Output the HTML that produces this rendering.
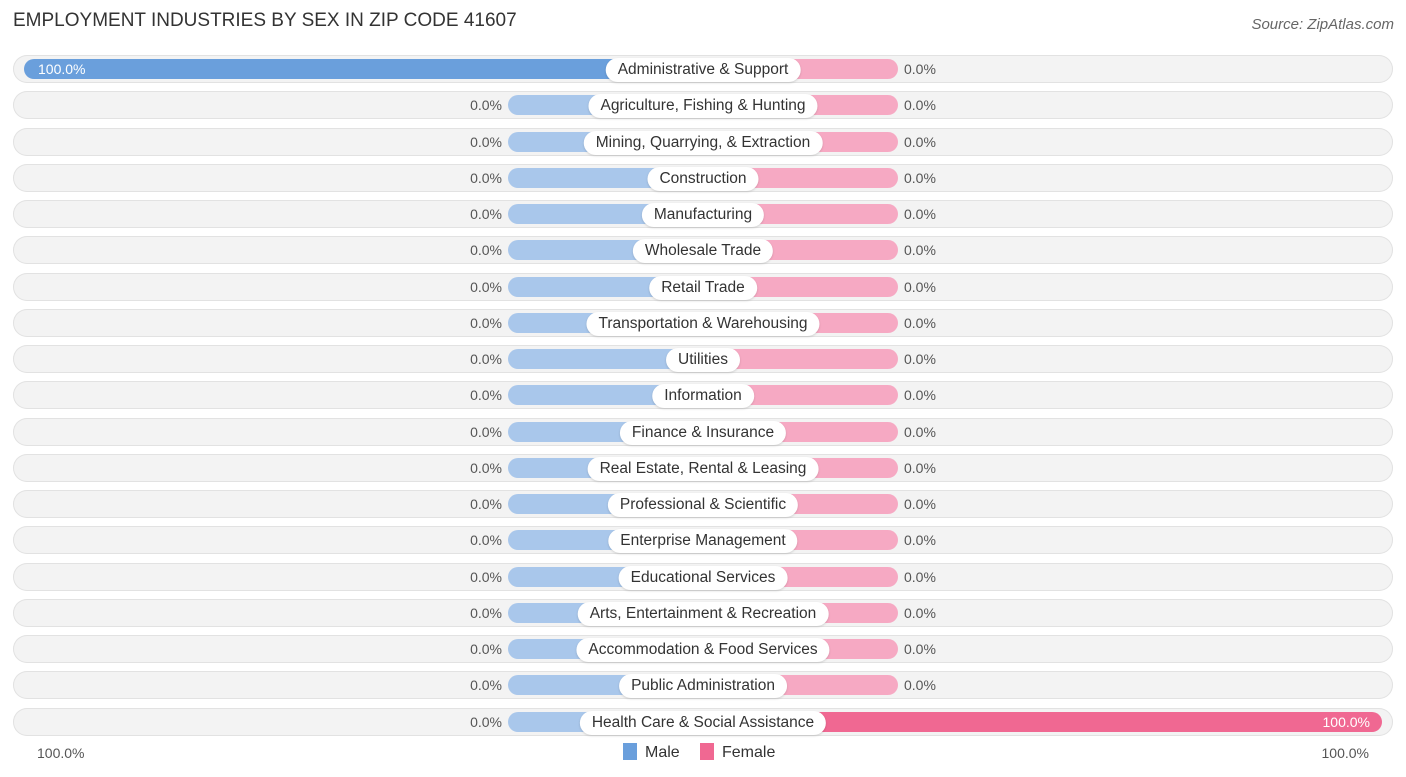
<!DOCTYPE html>
<html><head><meta charset="utf-8"><style>
body{margin:0;width:1406px;height:777px;background:#fff;font-family:"Liberation Sans",sans-serif;position:relative;overflow:hidden}
.t{position:absolute;left:13px;top:10px;font-size:19px;color:#333}
.src{position:absolute;right:12px;top:16px;font-size:15px;color:#666;font-style:italic}
.row{position:absolute;left:13px;width:1380px;height:28px;border-radius:14px;background:#f3f3f3;box-shadow:inset 0 0 0 1px #e2e2e2}
.bar{position:absolute;height:20px;border-radius:10px}
.lab{position:absolute;height:24px;line-height:24px;background:#fff;border-radius:12px;padding:0 12px;font-size:15.5px;color:#333;transform:translateX(-50%);white-space:nowrap;box-shadow:0 1px 2px rgba(0,0,0,.15)}
.v{position:absolute;font-size:14px;color:#555;line-height:20px}
.leg{position:absolute;top:743px;font-size:16px;color:#333}
.sw{display:inline-block;width:14px;height:17px;vertical-align:-3px;margin-right:8px}
</style></head><body>
<div class="t">EMPLOYMENT INDUSTRIES BY SEX IN ZIP CODE 41607</div>
<div class="src">Source: ZipAtlas.com</div>
<div id="chart"></div>
<div class="v" style="left:37px;top:743px">100.0%</div>
<div class="v" style="right:37px;top:743px">100.0%</div>
<div class="leg" style="left:623px"><span class="sw" style="background:#6a9fdc"></span>Male</div>
<div class="leg" style="left:700px"><span class="sw" style="background:#f06892"></span>Female</div>
<script>
const categories=["Administrative & Support","Agriculture, Fishing & Hunting","Mining, Quarrying, & Extraction","Construction","Manufacturing","Wholesale Trade","Retail Trade","Transportation & Warehousing","Utilities","Information","Finance & Insurance","Real Estate, Rental & Leasing","Professional & Scientific","Enterprise Management","Educational Services","Arts, Entertainment & Recreation","Accommodation & Food Services","Public Administration","Health Care & Social Assistance"];
const maleValues=[100,0,0,0,0,0,0,0,0,0,0,0,0,0,0,0,0,0,0];
const femaleValues=[0,0,0,0,0,0,0,0,0,0,0,0,0,0,0,0,0,0,100];
const cx=703,half=679,stub=195,y0=69,dy=36.25;
function w(v){return Math.max(stub,v/100*half);}
const c=document.getElementById('chart');
categories.forEach((cat,i)=>{
  const yc=y0+i*dy;
  const r=document.createElement('div');r.className='row';r.style.top=(yc-14)+'px';
  
  
  c.appendChild(r);
  const mw=w(maleValues[i]),fw=w(femaleValues[i]);
  const m=document.createElement('div');m.className='bar';
  m.style.cssText=`left:${cx-mw}px;width:${mw}px;top:${yc-10}px;background:${maleValues[i]>50?'#6a9fdc':'#a9c7eb'}`;
  
  
  c.appendChild(m);
  const f=document.createElement('div');f.className='bar';
  f.style.cssText=`left:${cx}px;width:${fw}px;top:${yc-10}px;background:${femaleValues[i]>50?'#f06892':'#f6a9c3'}`;
  
  
  c.appendChild(f);
  const l=document.createElement('div');l.className='lab';l.textContent=cat;
  l.style.left=cx+'px';l.style.top=(yc-11)+'px';
  
  
  c.appendChild(l);
  const mv=document.createElement('div');mv.className='v';mv.textContent=maleValues[i].toFixed(1)+'%';
  if(maleValues[i]>50){mv.style.left=(cx-mw+14)+'px';mv.style.color='#fff';}
  else{mv.style.right=(1406-(cx-mw)+6)+'px';}
  mv.style.top=(yc-10)+'px';
  
  
  c.appendChild(mv);
  const fv=document.createElement('div');fv.className='v';fv.textContent=femaleValues[i].toFixed(1)+'%';
  if(femaleValues[i]>50){fv.style.right=(1406-(cx+fw)+12)+'px';fv.style.color='#fff';}
  else{fv.style.left=(cx+fw+6)+'px';}
  fv.style.top=(yc-10)+'px';
  
  
  c.appendChild(fv);
});
</script>
</body></html>
